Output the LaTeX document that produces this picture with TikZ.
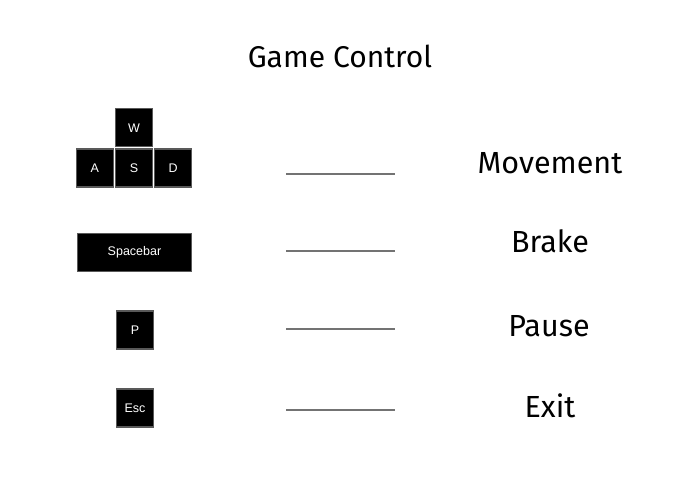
\documentclass[tikz,border=0pt]{standalone}
\usepackage{fontspec}
\setmainfont{Fira Sans}
\newfontfamily\keyfont{Liberation Sans}
\usepackage{tikz}
\usetikzlibrary{positioning}
\tikzset{
  keycap/.style={fill=black, draw=black!65, line width=1.2pt, minimum width=37pt,
    minimum height=38pt, inner sep=0pt, text=white, font=\keyfont\fontsize{12.5}{14}\selectfont},
  linkline/.style={draw=black!55, line width=1.3pt},
  actionlabel/.style={font=\fontsize{30.5}{36}\selectfont}
}

\begin{document}
\begin{tikzpicture}[x=1pt, y=-1pt]
  \useasboundingbox (0,0) rectangle (680,481);
  % Title
  \node[font=\fontsize{30}{36}\selectfont] (title) at (340,56) {Game Control};
  % WASD cluster
  \node[keycap] (keyS) at (134,168) {S};
  \node[keycap, left=1pt of keyS] (keyA) {A};
  \node[keycap, right=1pt of keyS] (keyD) {D};
  \node[keycap, above=1pt of keyS] (keyW) {W};
  % Other keys
  \node[keycap, minimum width=114pt] (keySpace) at (134.5,252.5) {Spacebar};
  \node[keycap] (keyP) at (135,330) {P};
  \node[keycap] (keyEsc) at (135,408) {Esc};
  % Actions
  \node[actionlabel] (actMove) at (550,163) {Movement};
  \node[actionlabel] (actBrake) at (550,241) {Brake};
  \node[actionlabel] (actPause) at (549,326) {Pause};
  \node[actionlabel] (actExit) at (550,406) {Exit};
  % Lines between keys and actions
  \coordinate (moveL) at (286,174);  \coordinate (moveR) at (395,174);
  \coordinate (brakeL) at (286,251); \coordinate (brakeR) at (395,251);
  \coordinate (pauseL) at (286,329); \coordinate (pauseR) at (395,329);
  \coordinate (exitL) at (286,410);  \coordinate (exitR) at (395,410);
  \draw[linkline] (moveL) -- (moveR);
  \draw[linkline] (brakeL) -- (brakeR);
  \draw[linkline] (pauseL) -- (pauseR);
  \draw[linkline] (exitL) -- (exitR);
\end{tikzpicture}
\end{document}
